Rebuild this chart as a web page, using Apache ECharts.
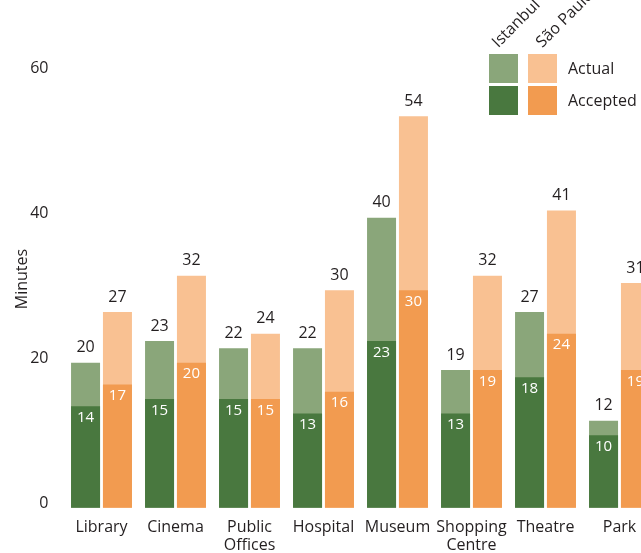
<!DOCTYPE html>
<html>
<head>
<meta charset="utf-8">
<script src="https://cdn.jsdelivr.net/npm/echarts@6.0.0/dist/echarts.min.js"></script>
<style>
html,body{margin:0;padding:0;background:#fff;}
#main{width:641px;height:553px;}
</style>
</head>
<body>
<div id="main"></div>
<script>
//分类和数据
var places = ['Library', 'Cinema', 'Public\nOffices', 'Hospital', 'Museum', 'Shopping\nCentre', 'Theatre', 'Park'];
var istanbulActual = [20, 23, 22, 22, 40, 19, 27, 12];
var istanbulAccepted = [14, 15, 15, 13, 23, 13, 18, 10];
var saoPauloActual = [27, 32, 24, 30, 54, 32, 41, 31];
var saoPauloAccepted = [17, 20, 15, 16, 30, 19, 24, 19];
var yTicks = [0, 20, 40, 60];

var font = '"Open Sans", "Noto Sans", sans-serif';
var ink = '#231f20';
var greenLight = '#8aa67a', greenDark = '#49783f';
var orangeLight = '#f9c192', orangeDark = '#f29b50';

//Actual 的柱子（浅色，标签在上面）
function actualBar(name, data, color) {
	return {
		name: name,
		type: 'bar',
		xAxisIndex: 0,
		data: data,
		barWidth: 29,
		barGap: '10%',
		itemStyle: { color: color },
		label: {
			show: true,
			position: 'top',
			distance: 7,
			color: ink,
			fontFamily: font,
			fontSize: 16
		}
	};
}
//Accepted 的柱子（深色，标签在里面）
function acceptedBar(name, data, color) {
	return {
		name: name,
		type: 'bar',
		xAxisIndex: 1,
		data: data,
		barWidth: 29,
		barGap: '10%',
		itemStyle: { color: color },
		label: {
			show: true,
			position: 'insideTop',
			distance: 4,
			color: '#fff',
			fontFamily: font,
			fontSize: 15
		}
	};
}

var chart = echarts.init(document.getElementById('main'));
var option = {
	animation: false,
	//图表右边被裁掉，所以 grid 伸出画布
	grid: { left: 64.5, top: 72.7, width: 592, height: 435, outerBoundsMode: 'none' },
	xAxis: [{
		type: 'category',
		data: places,
		axisLine: { show: false },
		axisTick: { show: false },
		axisLabel: {
			color: ink, fontFamily: font, fontSize: 16,
			lineHeight: 18, margin: 11, interval: 0
		}
	}, {
		type: 'category',
		data: places,
		show: false
	}],
	yAxis: {
		type: 'value',
		min: yTicks[0],
		max: yTicks[yTicks.length - 1],
		interval: 20,
		splitLine: { show: false },
		axisLine: { show: false },
		axisTick: { show: false },
		axisLabel: {
			color: ink, fontFamily: font, fontSize: 16,
			margin: 16, verticalAlign: 'bottom', lineHeight: 9
		}
	},
	graphic: [
		{ type: 'text', x: 22, y: 279, rotation: Math.PI / 2,
			style: { text: 'Minutes', fill: ink, font: '16px ' + font, align: 'center', verticalAlign: 'middle' } },
		//图例
		{ type: 'rect', shape: { x: 489, y: 54, width: 29, height: 29 }, style: { fill: greenLight } },
		{ type: 'rect', shape: { x: 528, y: 54, width: 29, height: 29 }, style: { fill: orangeLight } },
		{ type: 'rect', shape: { x: 489, y: 86, width: 29, height: 29 }, style: { fill: greenDark } },
		{ type: 'rect', shape: { x: 528, y: 86, width: 29, height: 29 }, style: { fill: orangeDark } },
		{ type: 'text', x: 568, y: 69, style: { text: 'Actual', fill: ink, font: '16px ' + font, verticalAlign: 'middle' } },
		{ type: 'text', x: 568, y: 101, style: { text: 'Accepted', fill: ink, font: '16px ' + font, verticalAlign: 'middle' } },
		{ type: 'text', x: 495, y: 45, rotation: Math.PI / 4,
			style: { text: 'Istanbul', fill: ink, font: '16px ' + font, align: 'left', verticalAlign: 'middle' } },
		{ type: 'text', x: 539, y: 45, rotation: Math.PI / 4,
			style: { text: 'São Paulo', fill: ink, font: '16px ' + font, align: 'left', verticalAlign: 'middle' } }
	],
	series: [
		actualBar('Istanbul Actual', istanbulActual, greenLight),
		actualBar('São Paulo Actual', saoPauloActual, orangeLight),
		acceptedBar('Istanbul Accepted', istanbulAccepted, greenDark),
		acceptedBar('São Paulo Accepted', saoPauloAccepted, orangeDark)
	]
};
chart.setOption(option);
</script>
</body>
</html>
